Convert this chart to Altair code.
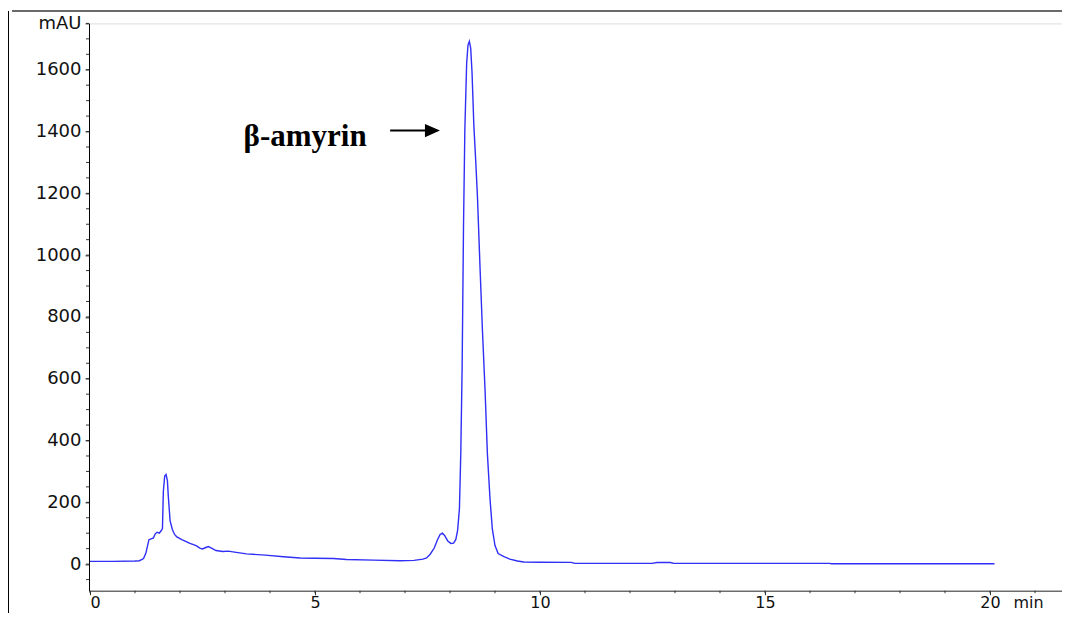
import altair as alt
import pandas as pd

# Chromatogram trace (retention time in min, absorbance in mAU)
time_min = [0.0, 0.5, 1.0, 1.10, 1.19, 1.24, 1.28, 1.31, 1.36, 1.41, 1.45, 1.49, 1.54, 1.58,
            1.61, 1.63, 1.66, 1.69, 1.72, 1.74, 1.78, 1.83, 1.88, 1.93, 2.04, 2.15, 2.22,
            2.30, 2.37, 2.44, 2.50, 2.56, 2.63, 2.70, 2.80, 2.95, 3.07, 3.25, 3.48, 3.9,
            4.30, 4.67, 5.0, 5.41, 5.70, 6.3, 6.89, 7.2, 7.40, 7.48, 7.56, 7.65, 7.72,
            7.78, 7.83, 7.88, 7.95, 8.02, 8.08, 8.13, 8.17, 8.21, 8.24, 8.27, 8.30, 8.33,
            8.37, 8.40, 8.43, 8.46, 8.49, 8.53, 8.57, 8.61, 8.67, 8.72, 8.78, 8.83, 8.89,
            8.94, 9.00, 9.07, 9.2, 9.33, 9.5, 9.64, 10.0, 10.69, 10.78, 12.49, 12.6, 12.9,
            12.97, 16.43, 16.48, 20.1]
mau = [9, 9, 10, 11, 18, 35, 60, 79, 82, 85, 98, 103, 100, 108,
       115, 235, 285, 290, 270, 220, 140, 112, 96, 88, 79, 72, 67,
       63, 59, 52, 49, 53, 57, 52, 44, 41, 42, 38, 33, 29,
       24, 20, 19, 18, 15, 13, 11, 12, 16, 20, 32, 52, 78,
       96, 100, 93, 75, 67, 68, 80, 110, 180, 360, 640, 1090, 1405,
       1620, 1680, 1692, 1670, 1590, 1420, 1310, 1190, 950, 760, 560, 360, 210,
       115, 60, 34, 24, 16, 10, 7, 6, 5.5, 2.5, 2.5, 5, 5,
       2.5, 2.5, 1, 1]

x_ticks = [0, 5, 10, 15, 20]
y_ticks = [0, 200, 400, 600, 800, 1000, 1200, 1400, 1600, 1750]
x_minor = list(range(0, 22))
y_minor = list(range(-50, 1751, 50))

label_text = ["β-amyrin"]
label_t = [4.78]
label_y = [1354]
arrow_t = [6.67]
arrow_t2 = [7.47]
arrow_y = [1403]
head_t = [7.61]

X_DOM = [-0.022, 21.6]
Y_DOM = [-86, 1750]
W, H = 973, 567.3

df = pd.DataFrame({"t": time_min, "mAU": mau})
xs = alt.Scale(domain=X_DOM, nice=False, zero=False)
ys = alt.Scale(domain=Y_DOM, nice=False, zero=False)

FONT = "DejaVu Sans"

line = alt.Chart(df).mark_line(color="#2f2ff5", strokeWidth=1.4, interpolate="linear").encode(
    x=alt.X("t:Q", scale=xs, axis=alt.Axis(
        values=x_ticks, format="d", grid=False, tickSize=4, labelPadding=0,
        labelFont=FONT, labelFontSize=16, labelColor="#111111",
        domainColor="#333333", tickColor="#333333",
        title="min", titleFont=FONT, titleFontSize=16, titleFontWeight="normal",
        titleColor="#111111", titleX=924, titleY=4, titleAlign="left",
        titleBaseline="top", titleAnchor="start")),
    y=alt.Y("mAU:Q", scale=ys, axis=alt.Axis(
        values=y_ticks, format="d", grid=False, tickSize=4, labelPadding=4,
        labelExpr="datum.value == 1750 ? 'mAU' : datum.label",
        labelFont=FONT, labelFontSize=18, labelColor="#111111",
        domainColor="#000000", tickColor="#333333", title=None)),
)

ymin = alt.Chart(pd.DataFrame({"v": y_minor})).mark_rule(color="#333333", strokeWidth=1).encode(
    y=alt.Y("v:Q", scale=ys), x=alt.value(-3), x2=alt.value(0))
xmin = alt.Chart(pd.DataFrame({"v": x_minor})).mark_rule(color="#333333", strokeWidth=1).encode(
    x=alt.X("v:Q", scale=xs), y=alt.value(H), y2=alt.value(H + 2.5))

lab_df = pd.DataFrame({"txt": label_text, "t": label_t, "y": label_y})
label = alt.Chart(lab_df).mark_text(font="Liberation Serif", fontWeight="bold", fontSize=31,
                                    align="center", baseline="alphabetic", color="#000000").encode(
    x=alt.X("t:Q", scale=xs), y=alt.Y("y:Q", scale=ys), text="txt:N")

arr_df = pd.DataFrame({"t": arrow_t, "t2": arrow_t2, "y": arrow_y, "h": head_t})
arrow = alt.Chart(arr_df).mark_rule(color="#000000", strokeWidth=2).encode(
    x=alt.X("t:Q", scale=xs), x2="t2:Q", y=alt.Y("y:Q", scale=ys))
head = alt.Chart(arr_df).mark_point(shape="M-1,-0.87L1,0L-1,0.87Z", filled=True, size=225,
                                    color="#000000", opacity=1).encode(
    x=alt.X("h:Q", scale=xs), y=alt.Y("y:Q", scale=ys))

frame_left = alt.Chart(pd.DataFrame({"a": [0]})).mark_rule(color="#000000", strokeWidth=1).encode(
    x=alt.value(-80.5), y=alt.value(-12.4), y2=alt.value(610))
frame_top = alt.Chart(pd.DataFrame({"a": [0]})).mark_rule(color="#6a6a6a", strokeWidth=2).encode(
    x=alt.value(-77), x2=alt.value(1000), y=alt.value(-12.4))

chart = alt.layer(frame_left, frame_top, ymin, xmin, line, label, arrow, head).properties(
    width=W, height=H,
    autosize=alt.AutoSizeParams(type="none"),
    padding={"left": 81, "top": 15.4, "right": 0, "bottom": 22},
).configure_view(strokeWidth=0).configure(background="white")

chart.save("out.html", embed_options={"renderer": "svg", "actions": False})
